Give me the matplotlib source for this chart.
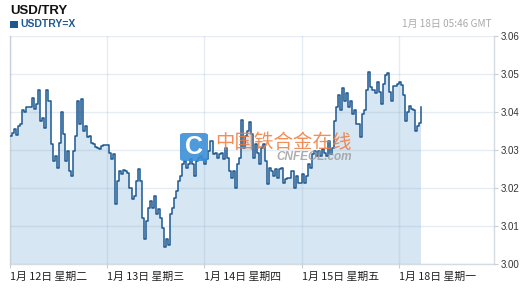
import matplotlib
matplotlib.use('Agg')
import matplotlib.pyplot as plt
import numpy as np
from matplotlib.patches import FancyBboxPatch

# USD/TRY half-hourly prices
prices = [
    3.0338, 3.0346, 3.0356, 3.0340, 3.0364, 3.0369, 3.0404, 3.0399, 3.0412, 3.0412,
    3.0412, 3.0438, 3.0409, 3.0422, 3.0457, 3.0377, 3.0385, 3.0359, 3.0457, 3.0430,
    3.0316, 3.0271, 3.0285, 3.0253, 3.0319, 3.0399, 3.0343, 3.0271, 3.0298, 3.0245,
    3.0232, 3.0298, 3.0338, 3.0430, 3.0369, 3.0433, 3.0351, 3.0364, 3.0333, 3.0338,
    3.0319, 3.0316, 3.0308, 3.0306, 3.0303, 3.0311, 3.0314, 3.0314, 3.0314, 3.0293,
    3.0277, 3.0290, 3.0157, 3.0218, 3.0245, 3.0237, 3.0248, 3.0245, 3.0240, 3.0200,
    3.0171, 3.0179, 3.0218, 3.0250, 3.0218, 3.0120, 3.0067, 3.0112, 3.0147, 3.0165,
    3.0147, 3.0179, 3.0131, 3.0144, 3.0120, 3.0094, 3.0046, 3.0067, 3.0051, 3.0131,
    3.0147, 3.0173, 3.0192, 3.0218, 3.0232, 3.0263, 3.0271, 3.0253, 3.0263, 3.0277,
    3.0263, 3.0232, 3.0271, 3.0279, 3.0285, 3.0277, 3.0263, 3.0277, 3.0298, 3.0324,
    3.0290, 3.0293, 3.0279, 3.0290, 3.0293, 3.0277, 3.0306, 3.0279, 3.0245, 3.0226,
    3.0245, 3.0200, 3.0263, 3.0279, 3.0380, 3.0306, 3.0338, 3.0351, 3.0375, 3.0343,
    3.0279, 3.0316, 3.0293, 3.0263, 3.0306, 3.0316, 3.0271, 3.0211, 3.0253, 3.0245,
    3.0232, 3.0250, 3.0226, 3.0250, 3.0253, 3.0213, 3.0224, 3.0226, 3.0226, 3.0245,
    3.0200, 3.0232, 3.0213, 3.0213, 3.0237, 3.0213, 3.0232, 3.0263, 3.0253, 3.0290,
    3.0298, 3.0285, 3.0298, 3.0285, 3.0303, 3.0293, 3.0285, 3.0324, 3.0290, 3.0306,
    3.0377, 3.0412, 3.0444, 3.0404, 3.0462, 3.0430, 3.0449, 3.0412, 3.0430, 3.0396,
    3.0404, 3.0369, 3.0369, 3.0333, 3.0396, 3.0404, 3.0457, 3.0505, 3.0465, 3.0457,
    3.0449, 3.0478, 3.0452, 3.0422, 3.0475, 3.0497, 3.0502, 3.0452, 3.0430, 3.0468,
    3.0468, 3.0475, 3.0478, 3.0470, 3.0444, 3.0377, 3.0399, 3.0417, 3.0409, 3.0404,
    3.0351, 3.0364, 3.0372, 3.0412,
]
day_labels = ["1月 12日 星期二", "1月 13日 星期三", "1月 14日 星期四",
              "1月 15日 星期五", "1月 18日 星期一"]
ticks_per_day = 48
y_ticks = [3.00, 3.01, 3.02, 3.03, 3.04, 3.05, 3.06]
y_tick_labels = ["3.00", "3.01", "3.02", "3.03", "3.04", "3.05", "3.06"]
title = "USD/TRY"
symbol = "USDTRY=X"
timestamp = "1月 18日 05:46 GMT"

CJK = ['Noto Sans CJK SC', 'DejaVu Sans']
LAT = ['Liberation Sans', 'DejaVu Sans']

W, H = 532, 294
fig = plt.figure(figsize=(W / 100, H / 100), dpi=100)
ax = fig.add_axes([10 / W, 1 - 264 / H, 484 / W, 228 / H])

t = np.arange(len(prices))
ax.fill_between(t, prices, 2.9, step='post', color='#d6e6f2', lw=0, zorder=1)
ax.plot(t, prices, drawstyle='steps-post', color='#1d5891', lw=1.1, zorder=3)

ax.set_xlim(0, 239)
ax.set_ylim(3.00, 3.06)

ax.set_axisbelow(False)
ax.yaxis.tick_right()
ax.set_yticks(y_ticks)
ax.set_yticklabels(y_tick_labels, family=LAT, fontsize=7, color='#333333')
ax.set_xticks([i * ticks_per_day for i in range(len(day_labels))])
ax.set_xticklabels(day_labels, family=CJK, fontsize=7.8, color='#222222', ha='left')
ax.tick_params(axis='y', which='both', direction='out', length=3, width=0.8,
               color='#c8ced6', pad=1.5)
ax.tick_params(axis='x', which='both', direction='out', length=3, width=0.8,
               color='#c8ced6', pad=3)
ax.grid(True, color=(0.55, 0.67, 0.8), alpha=0.22, lw=1.0)

for side in ['left', 'bottom', 'right']:
    ax.spines[side].set_color('#d6dbe1')
    ax.spines[side].set_linewidth(1.0)
ax.spines['top'].set_visible(False)

# header
fig.text(10 / W, 1 - 10.5 / H, title, family=LAT, fontsize=9.5, fontweight='bold',
         color='#111111', va='center', ha='left')
fig.patches.append(FancyBboxPatch((10 / W, 1 - 28 / H), 7.5 / W, 7.5 / H,
                                  boxstyle='square,pad=0', transform=fig.transFigure,
                                  facecolor='#1d5891', edgecolor='none'))
fig.text(20 / W, 1 - 24.3 / H, symbol, family=LAT, fontsize=7.5, fontweight='bold',
         color='#1d5891', va='center', ha='left')
fig.text(492 / W, 1 - 24.3 / H, timestamp, family=CJK, fontsize=7.2, color='#aaaaaa',
         va='center', ha='right')

# watermark
fig.patches.append(FancyBboxPatch((180 / W, 1 - 161 / H), 28 / W, 28 / H,
                                  boxstyle='round,pad=0,rounding_size=0.008',
                                  transform=fig.transFigure,
                                  facecolor='#3b8fd8', edgecolor='none', alpha=0.9, zorder=5))
fig.text(194 / W, 1 - 147.5 / H, "C", family=LAT, fontsize=18, fontweight='bold',
         color='white', va='center', ha='center', zorder=6)
fig.text(215 / W, 1 - 142 / H, "中国铁合金在线", family=CJK, fontsize=14,
         color='#f07a3c', alpha=0.85, va='center', ha='left', zorder=6)
fig.text(276 / W, 1 - 157 / H, "CNFEOL.com", family=LAT, fontsize=8.5, fontweight='bold',
         style='italic', color='#9a9a9a', alpha=0.8, va='center', ha='left', zorder=6)

fig.savefig('out.png', dpi=100)
